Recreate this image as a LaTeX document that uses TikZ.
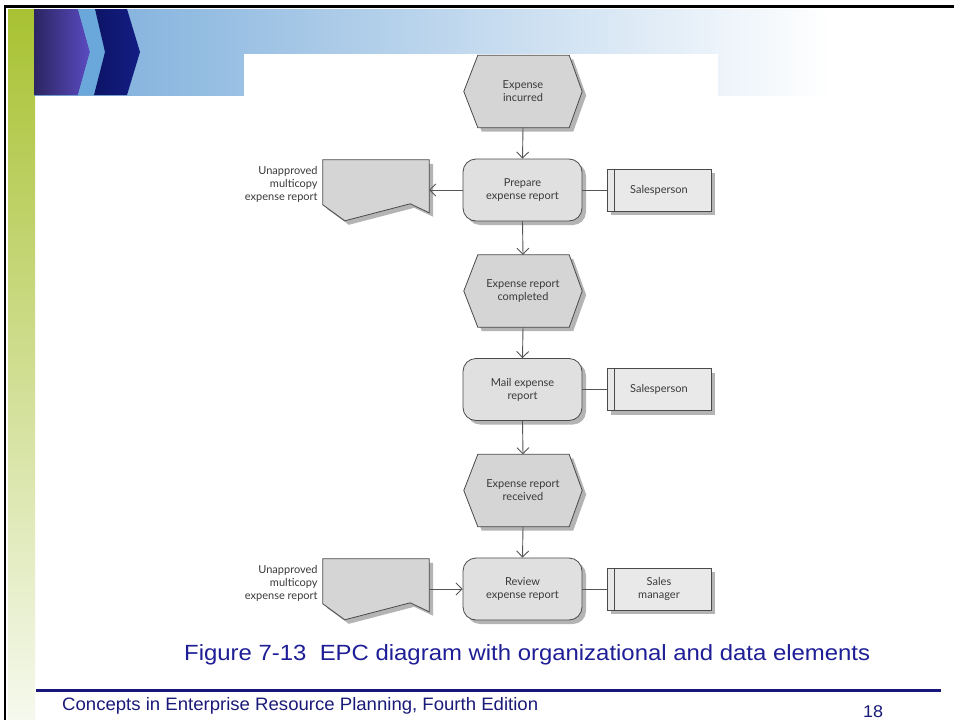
\documentclass[tikz,border=0pt]{standalone}
\usepackage{fontspec}
\setmainfont{Liberation Sans}
\newfontfamily\diafont{Lato}
\usetikzlibrary{arrows.meta,calc,shadows}
\definecolor{conn}{HTML}{555555}
\definecolor{edgec}{HTML}{4A4A4A}
\definecolor{evfill}{HTML}{D5D5D5}
\definecolor{fnfill}{HTML}{E0E0E0}
\definecolor{orgfill}{HTML}{E9E9E9}
\definecolor{docfill}{HTML}{D5D5D5}
\definecolor{shadowgray}{HTML}{B4B4B4}
\definecolor{txtc}{HTML}{3A3A3A}
\definecolor{titlec}{HTML}{1E1E96}
\definecolor{footc}{HTML}{1A1A7A}
\definecolor{rulec}{HTML}{17177A}
\definecolor{greentop}{HTML}{A8C232}
\definecolor{greenbot}{HTML}{F6F9EE}
\definecolor{bannerblue}{HTML}{78ABDA}
\definecolor{purpleA}{HTML}{2C2562}
\definecolor{purpleB}{HTML}{5B4BC2}
\definecolor{lightchev}{HTML}{6AA8DC}
\definecolor{navyA}{HTML}{0C1466}
\definecolor{navyB}{HTML}{141E84}
\newcommand\epcfont{\diafont\fontsize{11}{13}\selectfont}
\pgfdeclarelayer{deco}
\pgfdeclarelayer{shapes}
\pgfsetlayers{deco,shapes,main}
\begin{document}
\begin{tikzpicture}[x=1pt,y=-1pt,
  line/.style={draw=conn, line width=0.9pt},
  arr/.style={line, -{Straight Barb[length=6pt,width=12pt]}},
  shadowed/.style={drop shadow={shadow xshift=4pt,shadow yshift=-4pt,fill=shadowgray,opacity=1}},
  evbox/.style={minimum width=118pt, minimum height=72pt, inner sep=0pt, align=center, font=\epcfont, text=txtc},
  evshape/.style={draw=edgec, fill=evfill, line width=0.8pt, shadowed},
  fnbox/.style={draw=edgec, fill=fnfill, rounded corners=13pt, minimum width=119pt, minimum height=62pt, line width=0.8pt, shadowed, inner sep=0pt, align=center, font=\epcfont, text=txtc},
  orgbox/.style={draw=edgec, fill=orgfill, minimum width=104pt, minimum height=42pt, line width=0.8pt, shadowed, inner sep=0pt, align=center, font=\epcfont, text=txtc},
  docbox/.style={minimum width=106pt, minimum height=60pt, inner sep=0pt},
  docshape/.style={draw=edgec, fill=docfill, line width=0.8pt, shadowed},
  doclabel/.style={anchor=east, align=right, inner sep=0pt, font=\epcfont, text=txtc}
]
\useasboundingbox (0,0) rectangle (954,720);
\begin{pgfonlayer}{deco}
\fill[white] (0,0) rectangle (954,720);
\shade[top color=greentop, bottom color=greenbot] (8,9) rectangle (35,720);
\shade[left color=bannerblue, right color=white] (34,9) rectangle (830,95);
\fill[white] (244,54) rectangle (718,96);
\shade[left color=purpleA, right color=purpleB] (34,9) -- (78,9) -- (90,52) -- (78,95) -- (34,95) -- cycle;
\fill[lightchev] (78,9) -- (95,9) -- (105,52) -- (94,95) -- (78,95) -- (90,52) -- cycle;
\shade[left color=navyA, right color=navyB] (95,9) -- (127,9) -- (140,52) -- (127,95) -- (94,95) -- (105,52) -- cycle;
\draw[line width=2.2pt] (5,720) -- (5,6.5) -- (954,6.5);
\draw[rulec, line width=2.2pt] (36,690.5) -- (941,690.5);
\end{pgfonlayer}

% events
\node[evbox] (E1) at (523,91.5) {Expense\\incurred};
\node[evbox] (E2) at (523,291) {Expense report\\completed};
\node[evbox] (E3) at (523,490.5) {Expense report\\received};
% functions
\node[fnbox] (F1) at (522.5,190) {Prepare\\expense report};
\node[fnbox] (F2) at (522.5,389.5) {Mail expense\\report};
\node[fnbox] (F3) at (522.5,589) {Review\\expense report};
% organisational units
\node[orgbox] (O1) at (659,190) {Salesperson};
\node[orgbox] (O2) at (659,389.5) {Salesperson};
\node[orgbox] (O3) at (659,589) {Sales\\manager};
\foreach \n in {O1,O2,O3}
  \draw[draw=edgec, line width=0.8pt] ($(\n.north west)+(8,0)$) -- ($(\n.south west)+(8,0)$);
% documents
\node[docbox] (D1) at (376,190) {};
\node[docbox] (D2) at (376,589) {};
\node[doclabel] (L1) at ($(D1.west)+(-5,-6)$) {Unapproved\\multicopy\\expense report};
\node[doclabel] (L2) at ($(D2.west)+(-5,-6)$) {Unapproved\\multicopy\\expense report};

\begin{pgfonlayer}{shapes}
\foreach \n in {E1,E2,E3}
  \path[evshape] (\n.west) -- ($(\n.north west)+(14,0)$) -- ($(\n.north east)+(-13,0)$) -- (\n.east)
     -- ($(\n.south east)+(-13,0)$) -- ($(\n.south west)+(14,0)$) -- cycle;
\foreach \n in {D1,D2}
  \path[docshape] (\n.north west) -- (\n.north east) -- ($(\n.north east)+(0,53)$) -- ($(\n.north east)+(-19,44)$)
     -- ($(\n.north west)+(22,61)$) -- ($(\n.north west)+(0,45)$) -- cycle;
\end{pgfonlayer}

% connectors
\draw[arr] (E1.south) -- (F1.north);
\draw[arr] (F1.west) -- (D1.east);
\draw[line] (F1.east) -- (O1.west);
\draw[arr] (F1.south) -- (E2.north);
\draw[arr] (E2.south) -- (F2.north);
\draw[line] (F2.east) -- (O2.west);
\draw[arr] (F2.south) -- (E3.north);
\draw[arr] (E3.south) -- (F3.north);
\draw[arr] (D2.east) -- (F3.west);
\draw[line] (F3.east) -- (O3.west);

% caption and footer
\node[anchor=base west, inner sep=0pt, text=titlec] (title) at (184,660)
  {\resizebox{686pt}{\height}{\fontsize{22}{22}\selectfont Figure 7-13\ \ EPC diagram with organizational and data elements}};
\node[anchor=base west, inner sep=0pt, text=footc] (foot) at (62,710)
  {\resizebox{476pt}{\height}{\fontsize{18}{18}\selectfont Concepts in Enterprise Resource Planning, Fourth Edition}};
\node[anchor=base west, inner sep=0pt, text=footc] (page) at (863,717)
  {\resizebox{20pt}{\height}{\fontsize{17}{17}\selectfont 18}};
\end{tikzpicture}
\end{document}
